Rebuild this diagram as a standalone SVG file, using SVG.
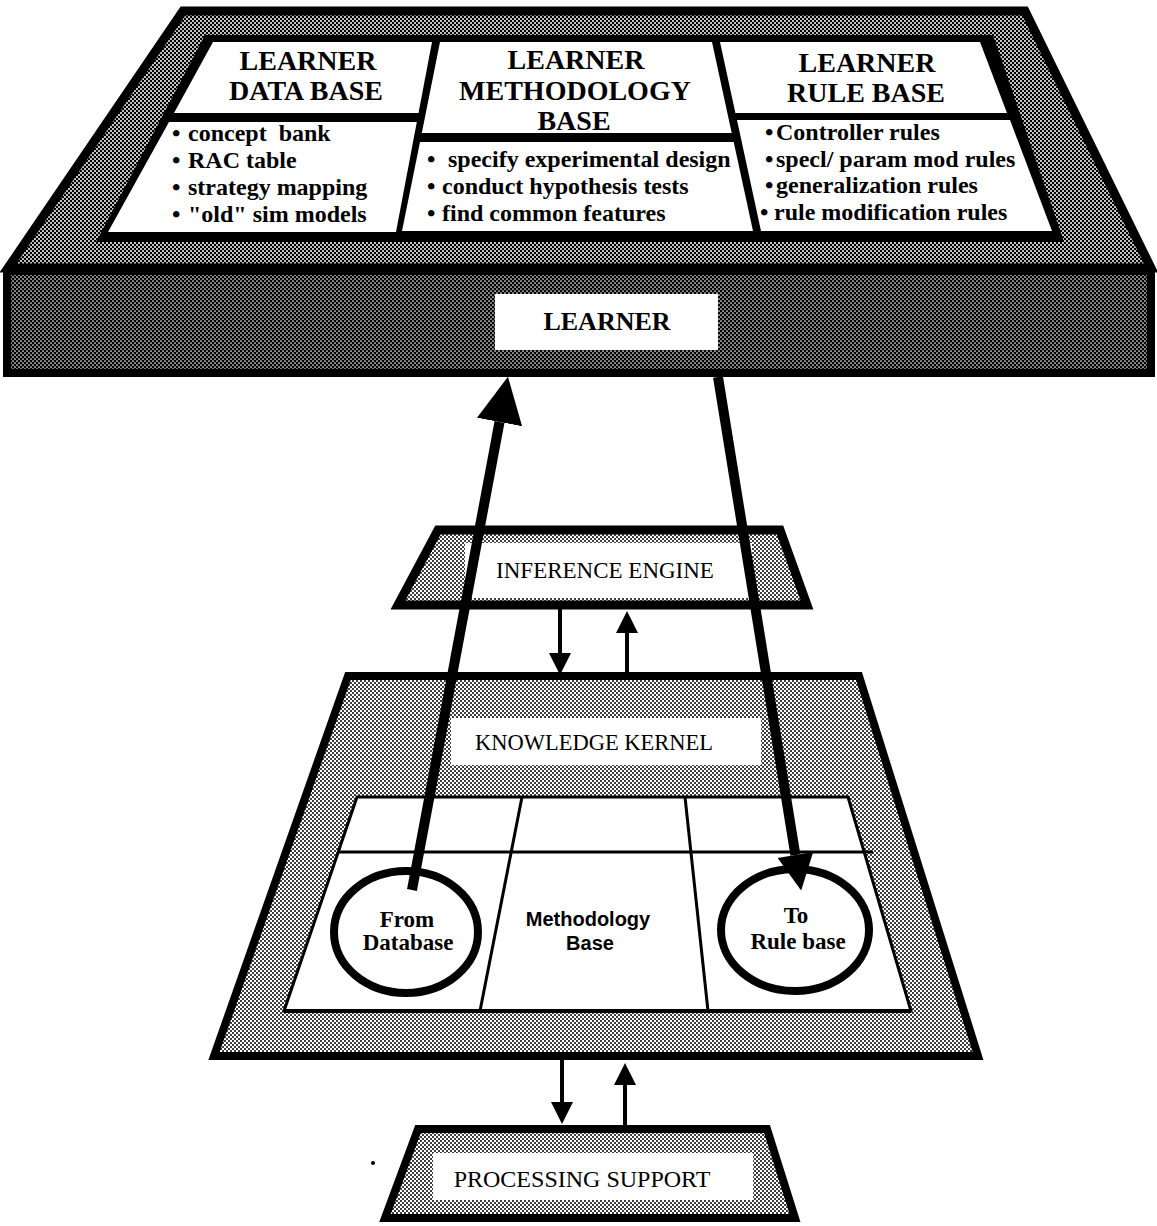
<svg xmlns="http://www.w3.org/2000/svg" width="1157" height="1226" viewBox="0 0 1157 1226">
  <defs>
    <!-- halftone screens -->
    <pattern id="screenLight" width="4" height="4" patternUnits="userSpaceOnUse">
      <rect width="4" height="4" fill="#fff"/>
      <circle cx="1" cy="1" r="1" fill="#000"/>
      <circle cx="3" cy="3" r="1" fill="#000"/>
    </pattern>
    <pattern id="screenDark" width="4" height="4" patternUnits="userSpaceOnUse">
      <rect width="4" height="4" fill="#000"/>
      <circle cx="1" cy="1" r="1" fill="#fff"/>
      <circle cx="3" cy="3" r="1" fill="#fff"/>
    </pattern>
    <pattern id="screenDarker" width="4" height="4" patternUnits="userSpaceOnUse">
      <rect width="4" height="4" fill="#000"/>
      <circle cx="1" cy="1" r="0.85" fill="#fff"/>
      <circle cx="3" cy="3" r="0.85" fill="#fff"/>
    </pattern>
    <marker id="headSmall" viewBox="0 0 10 10" refX="0" refY="5" markerWidth="22" markerHeight="24" markerUnits="userSpaceOnUse" orient="auto">
      <path d="M0,0 L10,5 L0,10 Z" fill="#000"/>
    </marker>
    <marker id="headUp" viewBox="0 0 10 10" refX="0" refY="5" markerWidth="46" markerHeight="46" markerUnits="userSpaceOnUse" orient="auto">
      <path d="M0,0 L10,5 L0,10 Z" fill="#000"/>
    </marker>
    <marker id="headDown" viewBox="0 0 10 10" refX="0" refY="5" markerWidth="41" markerHeight="36" markerUnits="userSpaceOnUse" orient="auto">
      <path d="M0,0 L10,5 L0,10 Z" fill="#000"/>
    </marker>
  </defs>
  <style>
    .hd { font-family: "Liberation Serif", serif; font-weight: bold; font-size: 28px; text-anchor: middle; fill: #000; }
    .li { font-family: "Liberation Serif", serif; font-weight: bold; font-size: 24px; fill: #000; white-space: pre; }
    .lb { font-family: "Liberation Serif", serif; font-size: 23px; text-anchor: middle; fill: #000; }
    .cb { font-family: "Liberation Serif", serif; font-weight: bold; font-size: 23px; text-anchor: middle; fill: #000; }
    .sb { font-family: "Liberation Sans", sans-serif; font-weight: bold; font-size: 20px; text-anchor: middle; fill: #000; }
    .panel { fill: #fff; }
    .edge { stroke: #000; stroke-linejoin: miter; }
    .rule { stroke: #000; stroke-width: 3; fill: none; }
    .conn { stroke: #000; fill: none; }
  </style>

  <rect width="1157" height="1226" fill="#fff"/>

  <!-- LEARNER: top face with its three bases -->
  <g id="learner-top">
    <polygon class="edge" points="183,11 1025,11 1151,268 8,268" fill="url(#screenDark)" stroke-width="9"/>
    <polygon points="205,35 993,35 1064,242 96,242" fill="#000"/>
  </g>

  <g id="learner-data-base">
    <polygon class="panel" points="213,42 432,42 418.5,113 174,113"/>
    <polygon class="panel" points="169,122 416.8,122 396,232 108,232"/>
    <text class="hd" x="308" y="70">LEARNER</text>
    <text class="hd" x="306" y="100">DATA BASE</text>
    <text class="li"><tspan x="172" y="141">•</tspan><tspan x="188" y="141">concept  bank</tspan></text>
    <text class="li"><tspan x="172" y="168">•</tspan><tspan x="188" y="168">RAC table</tspan></text>
    <text class="li"><tspan x="172" y="195">•</tspan><tspan x="188" y="195">strategy mapping</tspan></text>
    <text class="li"><tspan x="172" y="222">•</tspan><tspan x="188" y="222">"old" sim models</tspan></text>
  </g>

  <g id="learner-methodology-base">
    <polygon class="panel" points="440,42 712,42 731.7,133 421.8,133"/>
    <polygon class="panel" points="420,142 733.7,142 753,231 402,231"/>
    <text class="hd" x="576" y="69">LEARNER</text>
    <text class="hd" x="575" y="100">METHODOLOGY</text>
    <text class="hd" x="574" y="130">BASE</text>
    <text class="li"><tspan x="427" y="167">•</tspan><tspan x="448" y="167">specify experimental design</tspan></text>
    <text class="li"><tspan x="427" y="194">•</tspan><tspan x="442" y="194">conduct hypothesis tests</tspan></text>
    <text class="li"><tspan x="427" y="221">•</tspan><tspan x="442" y="221">find common features</tspan></text>
  </g>

  <g id="learner-rule-base">
    <polygon class="panel" points="720,42 980,42 1007,113 735.4,113"/>
    <polygon class="panel" points="737,120 1010,120 1052,231 761,231"/>
    <text class="hd" x="867" y="72">LEARNER</text>
    <text class="hd" x="866" y="102">RULE BASE</text>
    <text class="li"><tspan x="765" y="140">•</tspan><tspan x="776" y="140">Controller rules</tspan></text>
    <text class="li"><tspan x="765" y="167">•</tspan><tspan x="776" y="167">specl/ param mod rules</tspan></text>
    <text class="li"><tspan x="765" y="193">•</tspan><tspan x="776" y="193">generalization rules</tspan></text>
    <text class="li"><tspan x="760" y="220">•</tspan><tspan x="774" y="220">rule modification rules</tspan></text>
  </g>

  <!-- LEARNER: front face -->
  <g id="learner">
    <rect class="edge" x="7" y="271" width="1144" height="102" fill="url(#screenDarker)" stroke-width="8"/>
    <rect class="panel" x="495" y="294" width="223" height="56"/>
    <text class="hd" x="607" y="330" style="font-size:26px">LEARNER</text>
  </g>

  <g id="inference-engine">
    <polygon class="edge" points="438,530 780,530 807,605 398,605" fill="url(#screenLight)" stroke-width="9"/>
    <rect class="panel" x="465" y="543" width="287" height="55"/>
    <text class="lb" x="605" y="578">INFERENCE ENGINE</text>
  </g>

  <g id="knowledge-kernel">
    <polygon class="edge" points="348,676 859,676 978,1056 214,1056" fill="url(#screenLight)" stroke-width="8"/>
    <rect class="panel" x="451" y="718" width="310" height="47"/>
    <text class="lb" x="594" y="750" style="font-size:22.5px">KNOWLEDGE KERNEL</text>
    <!-- kernel table -->
    <polygon class="panel edge" points="357,797 848,797 911,1011 284,1011" stroke-width="3"/>
    <line class="rule" x1="284" y1="1011" x2="911" y2="1011" style="stroke-width:4"/>
    <line class="rule" x1="338" y1="852" x2="873" y2="852"/>
    <line class="rule" x1="522" y1="797" x2="480" y2="1011"/>
    <line class="rule" x1="685" y1="797" x2="708" y2="1011"/>
  </g>

  <g id="from-database">
    <ellipse cx="406" cy="932" rx="72" ry="61" fill="#fff" stroke="#000" stroke-width="8"/>
    <text class="cb" x="407" y="927">From</text>
    <text class="cb" x="408" y="950">Database</text>
  </g>

  <g id="methodology-base">
    <text class="sb" x="588" y="926">Methodology</text>
    <text class="sb" x="590" y="950">Base</text>
  </g>

  <g id="to-rule-base">
    <ellipse cx="795" cy="930" rx="74" ry="61" fill="#fff" stroke="#000" stroke-width="8"/>
    <text class="cb" x="796" y="923">To</text>
    <text class="cb" x="798" y="949">Rule base</text>
  </g>

  <g id="processing-support">
    <polygon class="edge" points="418,1129 767,1129 795,1218 385,1218" fill="url(#screenLight)" stroke-width="8"/>
    <rect class="panel" x="433" y="1153" width="320" height="47"/>
    <text class="lb" x="582" y="1187" style="font-size:24px">PROCESSING SUPPORT</text>
  </g>

  <circle cx="373" cy="1163" r="2" fill="#000"/>

  <!-- connectors -->
  <g id="connectors">
    <line class="conn" x1="412" y1="890" x2="499.5" y2="422" stroke-width="10" marker-end="url(#headUp)"/>
    <line class="conn" x1="718" y1="377" x2="795.4" y2="855" stroke-width="10" marker-end="url(#headDown)"/>
    <line class="conn" x1="560" y1="609" x2="560" y2="653" stroke-width="4" marker-end="url(#headSmall)"/>
    <line class="conn" x1="627" y1="672" x2="627" y2="633" stroke-width="4" marker-end="url(#headSmall)"/>
    <line class="conn" x1="562" y1="1060" x2="562" y2="1102" stroke-width="4" marker-end="url(#headSmall)"/>
    <line class="conn" x1="625" y1="1125" x2="625" y2="1085" stroke-width="4" marker-end="url(#headSmall)"/>
  </g>
</svg>
